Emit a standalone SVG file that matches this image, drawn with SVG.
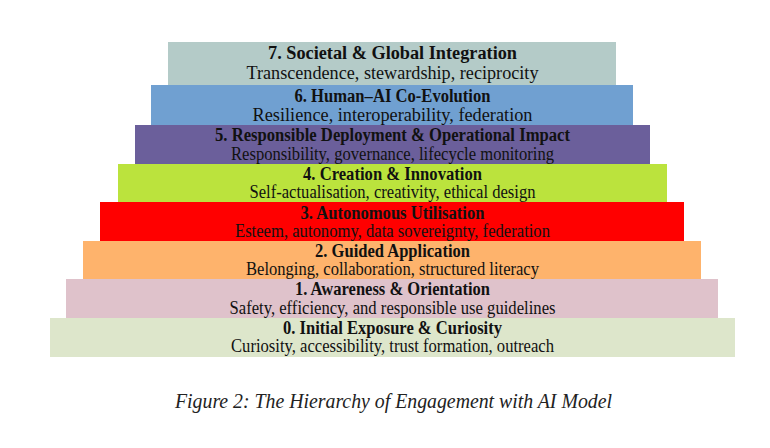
<svg xmlns="http://www.w3.org/2000/svg" width="770" height="448" viewBox="0 0 770 448">
  <style>
    .t { font-family: "Liberation Serif", "Times New Roman", serif; fill: #111; text-anchor: middle; }
    .h { font-weight: bold; font-size: 18px; }
    .s { font-size: 18px; }
    .cap { font-family: "Liberation Serif", "Times New Roman", serif; font-style: italic; font-size: 20px; fill: #222; text-anchor: middle; }
  </style>
  <rect width="770" height="448" fill="#ffffff"/>

  <!-- pyramid tiers, top to bottom -->
  <g id="level7">
    <rect x="168" y="42" width="448" height="43" fill="#b4cbc8"/>
    <text class="t h" x="392.5" y="59" textLength="249" lengthAdjust="spacingAndGlyphs">7. Societal &amp; Global Integration</text>
    <text class="t s" x="392.5" y="79" textLength="292" lengthAdjust="spacingAndGlyphs">Transcendence, stewardship, reciprocity</text>
  </g>
  <g id="level6">
    <rect x="151" y="85" width="482" height="40" fill="#70a0d1"/>
    <text class="t h" x="392.5" y="102" textLength="196" lengthAdjust="spacingAndGlyphs">6. Human–AI Co-Evolution</text>
    <text class="t s" x="392.5" y="121" textLength="280" lengthAdjust="spacingAndGlyphs">Resilience, interoperability, federation</text>
  </g>
  <g id="level5">
    <rect x="135" y="125" width="515" height="39" fill="#6b5f9b"/>
    <text class="t h" x="392.5" y="141" textLength="355" lengthAdjust="spacingAndGlyphs">5. Responsible Deployment &amp; Operational Impact</text>
    <text class="t s" x="392.5" y="160" textLength="323" lengthAdjust="spacingAndGlyphs">Responsibility, governance, lifecycle monitoring</text>
  </g>
  <g id="level4">
    <rect x="118" y="164" width="549" height="38" fill="#bbe33d"/>
    <text class="t h" x="392.5" y="180" textLength="179" lengthAdjust="spacingAndGlyphs">4. Creation &amp; Innovation</text>
    <text class="t s" x="392.5" y="198" textLength="286" lengthAdjust="spacingAndGlyphs">Self-actualisation, creativity, ethical design</text>
  </g>
  <g id="level3">
    <rect x="100" y="202" width="584" height="39" fill="#ff0000"/>
    <text class="t h" x="392.5" y="219" textLength="184" lengthAdjust="spacingAndGlyphs">3. Autonomous Utilisation</text>
    <text class="t s" x="392.5" y="237" textLength="315" lengthAdjust="spacingAndGlyphs">Esteem, autonomy, data sovereignty, federation</text>
  </g>
  <g id="level2">
    <rect x="83" y="241" width="618" height="38" fill="#feb36c"/>
    <text class="t h" x="392.5" y="257" textLength="155" lengthAdjust="spacingAndGlyphs">2. Guided Application</text>
    <text class="t s" x="392.5" y="275" textLength="293" lengthAdjust="spacingAndGlyphs">Belonging, collaboration, structured literacy</text>
  </g>
  <g id="level1">
    <rect x="66" y="279" width="652" height="39" fill="#dfc2cb"/>
    <text class="t h" x="392.5" y="295" textLength="195" lengthAdjust="spacingAndGlyphs">1. Awareness &amp; Orientation</text>
    <text class="t s" x="392.5" y="314" textLength="326" lengthAdjust="spacingAndGlyphs">Safety, efficiency, and responsible use guidelines</text>
  </g>
  <g id="level0">
    <rect x="50" y="318" width="685" height="39" fill="#dde6cb"/>
    <text class="t h" x="392.5" y="334" textLength="219" lengthAdjust="spacingAndGlyphs">0. Initial Exposure &amp; Curiosity</text>
    <text class="t s" x="392.5" y="352" textLength="323" lengthAdjust="spacingAndGlyphs">Curiosity, accessibility, trust formation, outreach</text>
  </g>

  <g id="connectors"/>

  <text class="cap" x="393.5" y="408" textLength="437" lengthAdjust="spacingAndGlyphs">Figure 2: The Hierarchy of Engagement with AI Model</text>
</svg>
